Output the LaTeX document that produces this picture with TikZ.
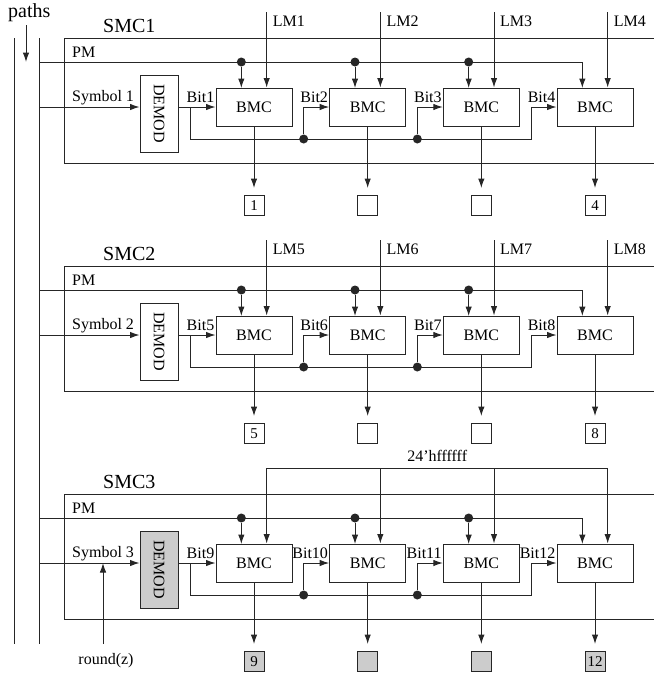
\documentclass[tikz,border=0pt]{standalone}
\usepackage{fontspec}
\setmainfont{Liberation Serif}
\usepackage{graphicx}
\usetikzlibrary{arrows.meta,calc}
\definecolor{boxgray}{HTML}{CCCCCC}
\begin{document}
\begin{tikzpicture}[x=1pt,y=-1pt,
  ln/.style={line width=1pt,draw=black!85},
  arr/.style={ln,-{Latex[length=9.5pt,width=6.5pt]}},
  bmcbox/.style={draw,ln,minimum width=76pt,minimum height=38pt,inner sep=0pt,font=\fontsize{16}{19}\selectfont},
  demodbox/.style={draw,ln,minimum width=38pt,minimum height=77pt,inner sep=0pt,font=\fontsize{16}{19}\selectfont},
  outbox/.style={draw,ln,minimum size=20pt,inner sep=0pt,font=\fontsize{15}{17}\selectfont},
  lbl/.style={inner sep=0pt,font=\fontsize{16}{19}\selectfont},
  big/.style={inner sep=0pt,font=\fontsize{20}{24}\selectfont},
  dot/.style={circle,fill=black!85,inner sep=0pt,minimum size=9pt}]
\useasboundingbox (0,0) rectangle (654,673);
% global path bus
\coordinate (v1t) at (14,38);
\coordinate (v1b) at (14,644);
\coordinate (v2t) at (39.5,38);
\coordinate (v2b) at (39.5,644);
\draw[ln] (v1t) -- (v1b);
\draw[ln] (v2t) -- (v2b);
\node[big,anchor=base west] (paths) at (8,17) {paths};
\coordinate (pa) at (26,25);
\coordinate (pb) at (26,62);
\draw[arr] (pa) -- (pb);
\foreach \k in {0,1,2} {
  \pgfmathsetmacro\oy{228*\k}
  \pgfmathtruncatemacro\smc{\k+1}
  \ifnum\k=2 \tikzset{fillc/.style={fill=boxgray}}\else\tikzset{fillc/.style={}}\fi
  % frame
  \draw[ln] (660,\oy+38) -- (64,\oy+38) -- (64,\oy+163) -- (660,\oy+163);
  \node[big,anchor=base west] (t\k) at (103,\oy+32) {SMC\smc};
  \node[lbl,anchor=base west] (pm\k) at (72,\oy+57) {PM};
  \node[lbl,anchor=base west] (sy\k) at (72,\oy+101) {Symbol \smc};
  \node[demodbox,fillc] (dm\k) at (159,\oy+113.5) {\rotatebox{-90}{DEMOD}};
  \coordinate (in\k) at (39.5,\oy+107);
  \coordinate (pl\k) at (39.5,\oy+62);
  \foreach \j in {1,...,4} {
    \pgfmathsetmacro\bx{216+113.67*(\j-1)}
    \pgfmathtruncatemacro\n{4*\k+\j}
    \node[bmcbox] (b\k\j) at (\bx+38,\oy+107) {BMC};
    \coordinate (pa\k\j) at (\bx+25.33,\oy+88);
    \coordinate (lt\k\j) at (\bx+50.67,\oy+12);
    \node[lbl,anchor=base east] (bl\k\j) at ($(b\k\j.west)+(-1,-5)$) {Bit\n};
    \ifnum\j=1 \def\otxt{\n}\else\ifnum\j=4 \def\otxt{\n}\else\def\otxt{}\fi\fi
    \node[outbox,fillc] (o\k\j) at ($(b\k\j.south)+(0,79)$) {\otxt};
    \draw[arr,shorten >=7pt] (b\k\j.south) -- (o\k\j.north);
    \draw[arr] (lt\k\j) -- (b\k\j.north -| lt\k\j);
    \ifnum\k<2
      \node[lbl,anchor=base west] (lm\k\j) at ($(lt\k\j)+(6,14)$) {LM\n};
    \fi
  }
  % symbol and bit1
  \draw[arr] (in\k) -- (in\k -| dm\k.west);
  \draw[arr] (b\k1.west -| dm\k.east) -- (b\k1.west);
  % PM line
  \draw[arr] (pl\k) -- (pl\k -| pa\k4) -- (pa\k4);
  \foreach \j in {1,2,3} {
    \node[dot] (d\k\j) at (pl\k -| pa\k\j) {};
    \draw[arr] (d\k\j) -- (pa\k\j);
  }
  % feedback
  \coordinate (br\k) at (190.5,\oy+107);
  \draw[arr] (br\k) |- ($(b\k4.west)+(-25.5,32)$) |- (b\k4.west);
  \foreach \j in {2,3} {
    \node[dot] (f\k\j) at ($(b\k\j.west)+(-25.5,32)$) {};
    \draw[arr] (f\k\j) |- (b\k\j.west);
  }
}
% SMC3 constant bus
\draw[ln] (lt21) -- (lt24);
\node[lbl,anchor=base] (hx) at ($(lt21)!0.5!(lt24)+(0,-7)$) {24'hffffff};
% round(z)
\node[lbl,anchor=base] (rz) at (106,664) {round(z)};
\coordinate (rzb) at (103,644);
\draw[arr] (rzb) -- (rzb |- in2);
\end{tikzpicture}
\end{document}
